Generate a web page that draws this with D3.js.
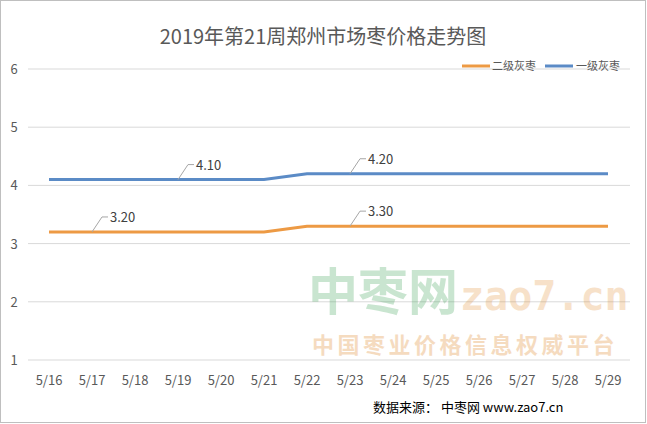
<!DOCTYPE html><html><head><meta charset="utf-8"><script src="https://cdn.jsdelivr.net/npm/d3@7"></script>
<style>body{margin:0;background:#fff}svg{display:block}</style></head><body><svg id="c" width="647" height="424"></svg>
<script>
const categories=["5/16","5/17","5/18","5/19","5/20","5/21","5/22","5/23","5/24","5/25","5/26","5/27","5/28","5/29"];
const grade1=[4.10,4.10,4.10,4.10,4.10,4.10,4.20,4.20,4.20,4.20,4.20,4.20,4.20,4.20];
const grade2=[3.20,3.20,3.20,3.20,3.20,3.20,3.30,3.30,3.30,3.30,3.30,3.30,3.30,3.30];
const yTicks=[1,2,3,4,5,6];
const labels=[{s:"g1",i:3,t:"4.10"},{s:"g2",i:1,t:"3.20"},{s:"g1",i:7,t:"4.20"},{s:"g2",i:7,t:"3.30"}];
const svg=d3.select("#c");
const font="'Noto Sans CJK SC','Noto Sans',sans-serif";
svg.append("rect").attr("x",0.5).attr("y",0.5).attr("width",645).attr("height",422).attr("fill","#fff").attr("stroke","#bfbfbf");
const x=d3.scalePoint().domain(categories).range([49,608]);
const y=d3.scaleLinear().domain([1,6]).range([360,69]);
const g=svg.append("g");
yTicks.forEach(t=>g.append("line").attr("x1",28).attr("x2",630).attr("y1",y(t)).attr("y2",y(t)).attr("stroke","#d9d9d9"));
yTicks.forEach(t=>g.append("text").attr("x",14).attr("y",y(t)+5).attr("text-anchor","middle").attr("font-size",13).attr("font-family",font).attr("fill","#595959").text(t));
categories.forEach(c=>g.append("text").attr("x",x(c)).attr("y",385).attr("text-anchor","middle").attr("font-size",13).attr("font-family",font).attr("fill","#595959").text(c));
// watermark
svg.append("text").attr("x",308).attr("y",310).attr("font-size",50).attr("font-weight","bold").attr("font-family",font).attr("fill","#2e9a48").attr("opacity",0.25).text("中枣网");
svg.append("text").attr("x",460).attr("y",310).attr("font-size",40).attr("font-weight","bold").attr("font-family","'DejaVu Sans Mono',monospace").attr("fill","#e08a2e").attr("opacity",0.25).text("zao7.cn");
svg.append("text").attr("x",312).attr("y",353).attr("font-size",22).attr("font-weight","bold").attr("letter-spacing",3.5).attr("font-family",font).attr("fill","#e08a2e").attr("opacity",0.3).text("中国枣业价格信息权威平台");
const line=d3.line().x((d,i)=>x(categories[i])).y(d=>y(d));
svg.append("path").attr("d",line(grade2)).attr("fill","none").attr("stroke","#ed9a44").attr("stroke-width",3);
svg.append("path").attr("d",line(grade1)).attr("fill","none").attr("stroke","#5b8bc6").attr("stroke-width",3);
labels.forEach(l=>{const v=(l.s=="g1"?grade1:grade2)[l.i];const px=x(categories[l.i]),py=y(v);
 svg.append("path").attr("d",`M${px},${py} L${px+10},${py-15} L${px+16},${py-15}`).attr("fill","none").attr("stroke","#a6a6a6");
 svg.append("text").attr("x",px+18).attr("y",py-10).attr("font-size",13).attr("font-family",font).attr("fill","#404040").text(l.t);});
svg.append("text").attr("x",323).attr("y",44).attr("text-anchor","middle").attr("font-size",20).attr("font-family",font).attr("fill","#595959").text("2019年第21周郑州市场枣价格走势图");
svg.append("line").attr("x1",462).attr("x2",490).attr("y1",66).attr("y2",66).attr("stroke","#ed9a44").attr("stroke-width",3);
svg.append("text").attr("x",492).attr("y",70).attr("font-size",11).attr("font-family",font).attr("fill","#595959").text("二级灰枣");
svg.append("line").attr("x1",545).attr("x2",573).attr("y1",66).attr("y2",66).attr("stroke","#5b8bc6").attr("stroke-width",3);
svg.append("text").attr("x",576).attr("y",70).attr("font-size",11).attr("font-family",font).attr("fill","#595959").text("一级灰枣");
svg.append("text").attr("x",373).attr("y",412).attr("font-size",13).attr("font-family",font).attr("fill","#000").text("数据来源：  中枣网 www.zao7.cn");
</script></body></html>
